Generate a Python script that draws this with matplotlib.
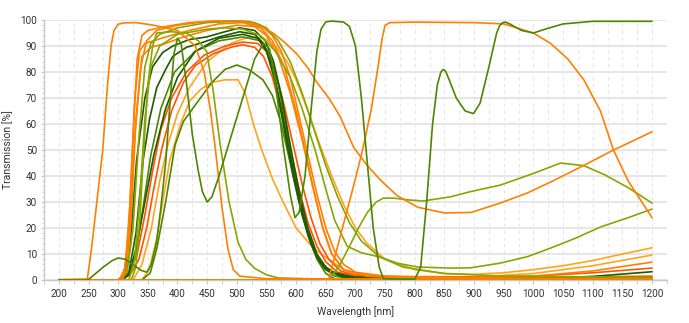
import matplotlib
matplotlib.use("Agg")
import matplotlib.pyplot as plt
from matplotlib.ticker import MultipleLocator

plt.rcParams['font.family'] = ['Roboto', 'DejaVu Sans']

ORANGE = '#ff8000'
AMBER = '#ffa41c'
RED = '#ff5400'
DGREEN = '#1f5a00'
GREEN = '#4e8600'
YGREEN = '#88a600'

# ---- transmission curves: wavelength [nm] / transmission [%] ----
wl_uv_orange = [200, 248, 255, 262, 274, 282, 288, 293, 300, 310, 330, 360, 400, 430, 445, 455, 463, 475, 485, 494, 505, 550, 1200]
t_uv_orange = [0.2, 0.4, 12, 26, 50, 75, 90, 96, 98.4, 98.9, 99, 98, 96, 90, 80, 66, 52, 28, 12, 4, 1.5, 0.5, 0.3]

wl_multi = [200, 249, 262, 275, 290, 300, 312, 325, 338, 348, 356, 365, 372, 380, 388, 394, 400, 406, 415, 425, 435, 442, 450,
            458, 470, 490, 510, 530, 545, 555, 565, 578, 590, 598, 605, 615, 625, 635, 642, 650, 660, 680, 690, 700, 710, 720,
            730, 740, 747, 800, 810, 820, 830, 838, 844, 848, 852, 858, 870, 885, 899, 910, 925, 938, 943, 948, 953, 960, 980,
            1000, 1020, 1050, 1100, 1200]
t_multi = [0, 0, 2.5, 5, 7.5, 8.5, 8, 6, 3.8, 3, 6, 15, 28, 45, 70, 87, 93, 91, 76, 56, 42, 34, 30,
           32, 40, 55, 70, 85, 91, 89, 76, 52, 33, 24, 26, 40, 65, 88, 96.5, 99.3, 99.6, 99.2, 97.5, 90, 70, 45,
           20, 5, 0.5, 0.3, 5, 30, 60, 75, 80, 81, 80.3, 77, 70, 65, 64, 68, 82, 95, 97.8, 99, 99.2, 98.5, 96,
           95, 96.5, 98.5, 99.5, 99.5]

wl_lp_orange = [200, 640, 655, 670, 685, 700, 713, 727, 738, 745, 750, 758, 800, 900, 950, 1000, 1029, 1058, 1085, 1113, 1135, 1160, 1200]
t_lp_orange = [0, 0, 0.5, 13, 26, 39, 51, 66, 82, 93, 98, 99, 99.2, 99, 98.5, 95, 91, 85, 77, 65, 50, 38, 24]

wl_broad_orange = [200, 308, 318, 328, 338, 348, 365, 400, 450, 500, 540, 561, 580, 601, 620, 635, 655, 674, 697, 720, 742, 770,
                   805, 850, 895, 944, 990, 1029, 1080, 1135, 1200]
t_broad_orange = [0, 0, 15, 55, 82, 92, 96, 98, 99.5, 100, 97.5, 95, 91.5, 87, 81.5, 76, 70, 63, 51, 44, 38.5, 32.5,
                  28, 25.8, 26, 29.6, 33.5, 37.7, 43.5, 50, 57]

wl_nir_ygreen = [200, 650, 657, 674, 690, 705, 720, 735, 747, 765, 790, 814, 860, 894, 944, 1000, 1046, 1085, 1120, 1160, 1200]
t_nir_ygreen = [0, 0, 0.5, 6, 13, 20, 26, 30, 31.5, 31.5, 30.8, 30.4, 32, 34, 36.5, 41, 45, 44, 40.5, 35.5, 29.6]

wl_tail_ygreen = [200, 318, 328, 336, 345, 355, 370, 400, 450, 480, 510, 540, 565, 590, 610, 632, 650, 665, 686, 710, 742,
                  770, 805, 860, 894, 944, 990, 1029, 1070, 1113, 1160, 1200]
t_tail_ygreen = [0, 0, 8, 30, 62, 82, 90, 94.5, 96.5, 97, 96.5, 94, 88, 78, 66, 50, 35, 23, 13, 10.5, 8.8,
                 6.5, 5, 4.6, 4.7, 6.5, 9, 12.3, 16, 20.4, 24, 27.3]

wl_short_ygreen = [200, 322, 330, 337, 342, 350, 358, 365, 390, 415, 435, 449, 460, 472, 487, 502, 515, 530, 550, 570, 650, 1200]
t_short_ygreen = [0, 0, 5, 25, 46, 75, 90, 95, 95.5, 95, 92, 88, 73, 52, 30, 14.6, 8, 4.5, 2, 0.8, 0.3, 0.2]

wl_amber_77 = [200, 340, 352, 365, 375, 387, 405, 421, 440, 458, 480, 502, 514, 528, 542, 560, 576, 600, 630, 657, 680, 703,
               750, 900, 1000, 1100, 1200]
t_amber_77 = [0, 0, 4, 16, 30, 46, 60, 69, 73.5, 76, 77, 77, 72, 60, 50, 39, 31, 20, 12, 7.7, 4, 2.2,
              1.5, 1.2, 2.5, 5.5, 9.6]

wl_dgreen_a = [200, 300, 310, 320, 331, 345, 358, 375, 392, 420, 449, 480, 505, 530, 548, 562, 576, 590, 605, 620, 635, 650,
               670, 700, 800, 1000, 1100, 1200]
t_dgreen_a = [0, 0, 2, 12, 46, 70, 82, 87.5, 90, 92.5, 93.5, 95.5, 97, 96, 92, 84, 70, 52, 34, 20, 10, 5,
              2, 0.8, 0.3, 0.6, 1.4, 3.2]

wl_dgreen_b = [200, 305, 318, 330, 342, 353, 365, 380, 392, 415, 437, 470, 505, 530, 545, 560, 575, 590, 605, 620, 635, 650,
               680, 1200]
t_dgreen_b = [0, 0, 3, 18, 46, 62, 74, 81, 86, 89.5, 91, 93.5, 95.5, 94.5, 91, 82, 66, 48, 31, 18, 9, 4, 1, 0.5]

wl_dgreen_c = [200, 305, 318, 330, 345, 360, 380, 400, 430, 470, 510, 535, 550, 565, 580, 595, 610, 625, 640, 660, 700, 1200]
t_dgreen_c = [0, 0, 2, 12, 30, 48, 66, 78, 88, 93, 94.5, 93, 88, 76, 58, 40, 25, 14, 7, 3, 1, 0.3]

wl_red_a = [200, 305, 320, 335, 348, 360, 373, 390, 410, 430, 460, 490, 510, 530, 545, 560, 575, 590, 605, 620, 635, 650, 670,
            700, 800, 1000, 1100, 1200]
t_red_a = [0, 0, 2, 8, 20, 35, 50, 65, 76, 82.5, 87, 89.5, 90.5, 89.5, 86, 78, 65, 50, 35, 22, 13, 7, 3,
           1.5, 0.8, 1.5, 2.8, 4.6]

wl_red_b = [200, 305, 318, 332, 345, 358, 372, 390, 415, 445, 480, 510, 535, 550, 565, 580, 595, 610, 625, 640, 655, 675,
            700, 800, 1000, 1200]
t_red_b = [0, 0, 2, 10, 25, 42, 58, 70, 80, 86.5, 90, 91.5, 91, 88, 80, 67, 52, 37, 24, 14, 8, 3.5,
           1.8, 1, 1, 1.5]

wl_amber_wide = [200, 325, 340, 356, 370, 385, 400, 420, 450, 490, 520, 545, 565, 585, 600, 620, 640, 660, 680, 700, 720, 750,
                 800, 850, 900, 950, 1000, 1050, 1100, 1150, 1200]
t_amber_wide = [0, 0, 6, 20, 38, 53, 64, 74, 84, 91, 93.5, 93, 90, 84, 77, 65, 52, 40, 29, 20, 14, 8,
                4, 2.5, 2.2, 2.8, 4, 5.5, 7.5, 10, 12.4]

wl_green_82 = [200, 340, 354, 365, 380, 396, 410, 429, 458, 480, 500, 520, 544, 560, 575, 590, 605, 620, 635, 650, 665, 1200]
t_green_82 = [0, 0, 2.7, 12, 30, 52, 61, 67, 76, 81, 82.7, 81, 77, 71, 60, 45, 30, 17, 8, 2.5, 0.5, 0.2]

wl_ygreen_high = [200, 305, 315, 325, 335, 345, 355, 370, 400, 450, 500, 530, 550, 570, 590, 610, 630, 650, 670, 690, 710,
                  740, 780, 850, 950, 1200]
t_ygreen_high = [0, 0, 3, 20, 55, 82, 91, 94.5, 97, 99, 99.5, 99, 97, 92, 84, 72, 58, 44, 32, 22, 15,
                 9, 5, 2.5, 1.5, 1]

wl_orange_a = [200, 300, 310, 318, 325, 332, 340, 350, 380, 420, 480, 520, 540, 560, 575, 590, 605, 620, 635, 650, 665, 680,
               700, 750, 850, 1000, 1100, 1200]
t_orange_a = [0, 0, 2, 20, 55, 85, 94, 96, 97.5, 99, 99.8, 99.5, 98, 94, 88, 78, 63, 48, 33, 20, 11, 6,
              3, 1.5, 0.8, 1.5, 3.5, 6.9]

wl_orange_b = [200, 302, 312, 320, 328, 336, 345, 360, 380, 420, 470, 510, 540, 560, 580, 600, 615, 630, 645, 660, 680, 720,
               800, 1200]
t_orange_b = [0, 0, 5, 30, 70, 88, 91, 92, 93.5, 96, 98.5, 99, 97, 92, 82, 65, 50, 34, 20, 10, 4, 1.5, 0.8, 0.5]

wl_orange_c = [200, 305, 315, 322, 330, 340, 355, 380, 410, 450, 500, 530, 550, 570, 590, 610, 628, 645, 660, 680, 720, 800, 1200]
t_orange_c = [0, 0, 4, 25, 62, 86, 89.5, 91, 93.5, 96, 98, 97.5, 94, 86, 72, 54, 36, 20, 10, 4, 1.5, 0.8, 0.6]

wl_green_mid = [200, 305, 318, 330, 342, 355, 372, 395, 430, 470, 510, 540, 555, 570, 585, 600, 615, 630, 645, 665, 700, 1200]
t_green_mid = [0, 0, 2, 10, 28, 48, 66, 80, 88, 92, 93.5, 92, 87, 75, 57, 38, 22, 11, 5, 1.5, 0.5, 0.3]

curves = [
    (wl_amber_wide, t_amber_wide, AMBER),
    (wl_amber_77, t_amber_77, AMBER),
    (wl_green_82, t_green_82, GREEN),
    (wl_red_a, t_red_a, RED),
    (wl_red_b, t_red_b, RED),
    (wl_green_mid, t_green_mid, GREEN),
    (wl_dgreen_c, t_dgreen_c, DGREEN),
    (wl_dgreen_b, t_dgreen_b, DGREEN),
    (wl_dgreen_a, t_dgreen_a, DGREEN),
    (wl_orange_c, t_orange_c, ORANGE),
    (wl_orange_b, t_orange_b, ORANGE),
    (wl_orange_a, t_orange_a, ORANGE),
    (wl_ygreen_high, t_ygreen_high, YGREEN),
    (wl_short_ygreen, t_short_ygreen, YGREEN),
    (wl_tail_ygreen, t_tail_ygreen, YGREEN),
    (wl_nir_ygreen, t_nir_ygreen, YGREEN),
    (wl_uv_orange, t_uv_orange, ORANGE),
    (wl_broad_orange, t_broad_orange, ORANGE),
    (wl_lp_orange, t_lp_orange, ORANGE),
    (wl_multi, t_multi, GREEN),
]

fig = plt.figure(figsize=(6.89, 3.23), dpi=100)
ax = fig.add_axes([0.0639, 0.133, 0.904, 0.805])

for wl, t, c in curves:
    ax.plot(wl, t, color=c, lw=1.2, solid_joinstyle='round', solid_capstyle='round', zorder=3)

ax.set_xlim(175, 1225)
ax.set_ylim(0, 100)
ax.xaxis.set_major_locator(MultipleLocator(50))
ax.xaxis.set_minor_locator(MultipleLocator(25))
ax.yaxis.set_major_locator(MultipleLocator(10))
ax.yaxis.set_minor_locator(MultipleLocator(2))

ax.grid(True, axis='y', which='major', color='#e6e6e6', lw=1.4, zorder=0)
ax.grid(True, axis='x', which='both', color='#e6e6e6', lw=0.8, ls=(0, (3, 3)), zorder=0)

for s in ('top', 'right'):
    ax.spines[s].set_visible(False)
for s in ('left', 'bottom'):
    ax.spines[s].set_color('#c8c8c8')
    ax.spines[s].set_linewidth(1.0)

ax.tick_params(axis='both', which='major', labelsize=7.2, colors='#c8c8c8', labelcolor='#333333', width=0.8)
ax.tick_params(axis='both', which='minor', colors='#c8c8c8', width=0.6)
ax.tick_params(axis='x', which='both', length=3, pad=3.5)
ax.tick_params(axis='y', which='major', length=2.5, pad=2.5)
ax.tick_params(axis='y', which='minor', length=1.5)

ax.set_xlabel('Wavelength [nm]', fontsize=7.5, color='#333333', labelpad=5)
ax.set_ylabel('Transmission [%]', fontsize=7.5, color='#333333', labelpad=5)

fig.savefig('out.png', dpi=100)
